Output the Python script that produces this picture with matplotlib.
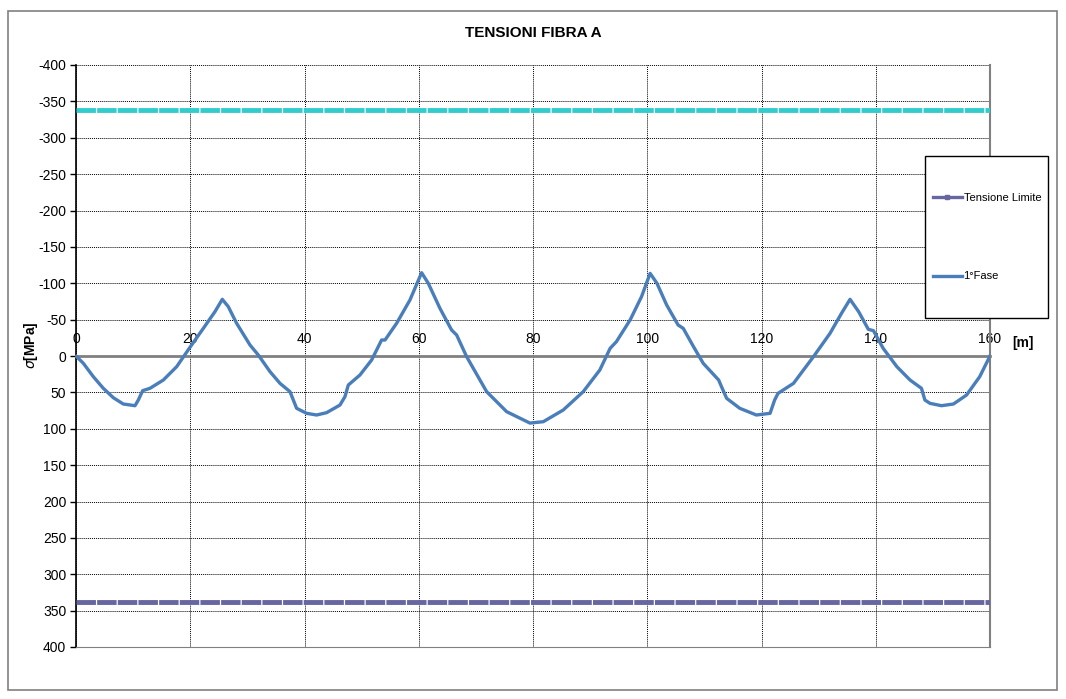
import matplotlib
matplotlib.use("Agg")
import matplotlib.pyplot as plt
from matplotlib.patches import Rectangle
from matplotlib.lines import Line2D

plt.rcParams['font.family'] = ['Liberation Sans', 'DejaVu Sans']
plt.rcParams['axes.unicode_minus'] = False

# progressiva [m] e tensioni [MPa] (1° fase)
x_fase1 = [0, 1.28, 3.03, 4.78, 6.53, 8.28, 10.33, 10.91, 11.67, 12.95, 15.29, 17.62,
           19.95, 22.29, 24.33, 25.61, 26.66, 28.12, 30.46, 31.91, 33.96, 35.71, 37.46,
           38.62, 40.37, 42.12, 43.87, 46.21, 47.08, 47.67, 49.71, 51.75, 53.5, 54.1,
           56.12, 58.46, 60.5, 61.67, 63.71, 65.75, 66.63, 68.38, 71.88, 75.38, 79.46,
           81.8, 85.3, 88.8, 91.7, 93.5, 94.6, 97.0, 99.0, 100.5, 101.7, 103.4, 105.4,
           106.3, 108.1, 109.8, 112.5, 113.0, 113.9, 116.2, 119.1, 121.5, 122.3, 122.9,
           125.6, 129.1, 132.0, 134.0, 135.5, 137.0, 138.7, 139.6, 141.3, 143.7, 146.0,
           148.0, 148.6, 149.5, 151.5, 153.6, 155.9, 158.2, 160.0]
s_fase1 = [0, 10, 28.4, 44.4, 57.3, 66, 68.3, 60.5, 47.7, 44.4, 33, 14.7,
           -11.9, -38, -61, -77.9, -67.8, -44.9, -15.1, -1.4, 21.5, 37.6, 49,
           71.9, 78.8, 81.1, 77.9, 67.4, 55.9, 39.9, 26.1, 5.5, -22, -22,
           -44.9, -77, -114.5, -99.9, -65.5, -35.7, -28.9, 0.9, 49, 76.5, 92.2,
           90.3, 74.2, 49, 19.2, -10.5, -19.7, -49.5, -81.6, -113.6, -99.9, -70.1, -42.6,
           -38, -12.8, 10.1, 33, 42.2, 58.2, 71.9, 81.1, 78.8, 60.5, 51.3,
           37.6, 0.9, -31.2, -58.6, -77.9, -61, -36.7, -34.8, -10.5, 14.7, 33,
           44.4, 60.5, 65.1, 68.3, 66, 53.6, 28.4, 0]

x_limite = [0, 160]
s_limite_traz = [-338, -338]
s_limite_comp = [338, 338]

x_ticks = [0, 20, 40, 60, 80, 100, 120, 140, 160]
y_ticks = [-400, -350, -300, -250, -200, -150, -100, -50, 0, 50, 100, 150, 200, 250, 300, 350, 400]

W, H = 1066, 699
fig = plt.figure(figsize=(W / 100, H / 100), dpi=100)

# cornice esterna
fig.patches.append(Rectangle((8 / W, 1 - 690 / H), 1049 / W, 679 / H, transform=fig.transFigure,
                             fill=False, edgecolor='#808080', linewidth=1.2))

ax = fig.add_axes([76 / W, 1 - 647 / H, 914 / W, 582 / H])
ax.set_xlim(0, 160)
ax.set_ylim(400, -400)

ax.grid(True, color='black', linestyle=(0, (1, 1)), linewidth=0.7)
ax.set_xticks(x_ticks)
ax.set_yticks(y_ticks)

ax.spines['top'].set_position(('data', 0))
ax.spines['top'].set_color('#808080')
ax.spines['top'].set_linewidth(2)
ax.spines['bottom'].set_color('#808080')
ax.spines['right'].set_color('#808080')
ax.spines['right'].set_linewidth(1.5)
ax.spines['left'].set_color('black')
ax.spines['left'].set_linewidth(1.2)
ax.xaxis.tick_top()
ax.tick_params(axis='x', length=0, pad=7, labelsize=10)
ax.tick_params(axis='y', length=4, width=1, labelsize=10, pad=3)

ax.plot(x_limite, s_limite_traz, color='#33CCCC', linewidth=3.5, linestyle=(0, (4, 0.25)), zorder=3)
ax.plot(x_limite, s_limite_comp, color='#6666A0', linewidth=3.5, linestyle=(0, (4, 0.25)), zorder=3)
ax.plot(x_fase1, s_fase1, color='#4A7EBB', linewidth=2.4, zorder=4, solid_joinstyle='round')

ax.set_title('TENSIONI FIBRA A', fontsize=11, fontweight='bold', pad=20)
fig.text(1023 / W, 1 - 343 / H, '[m]', fontsize=10, fontweight='bold', ha='center', va='center')
fig.text(31 / W, 1 - 345 / H, r'$\sigma$[MPa]', fontsize=10, fontweight='bold', rotation=90,
         ha='center', va='center')

# legenda
fig.patches.append(Rectangle((925 / W, 1 - 318 / H), 123 / W, 162 / H, transform=fig.transFigure,
                             facecolor='white', edgecolor='black', linewidth=1, zorder=5))
h1 = Line2D([], [], color='#6666A0', linewidth=2.4, marker='s', markersize=3)
h2 = Line2D([], [], color='#4A7EBB', linewidth=2.4)
leg = fig.legend([h1, h2], ['Tensione Limite', '1°Fase'], loc='center left',
                 bbox_to_anchor=(933 / W, 1 - 237 / H), bbox_transform=fig.transFigure,
                 fontsize=8, labelspacing=6.2, borderpad=0, handlelength=2.6,
                 handletextpad=0.15, borderaxespad=0, frameon=False)
leg.set_zorder(6)

plt.savefig('out.png', dpi=100)
